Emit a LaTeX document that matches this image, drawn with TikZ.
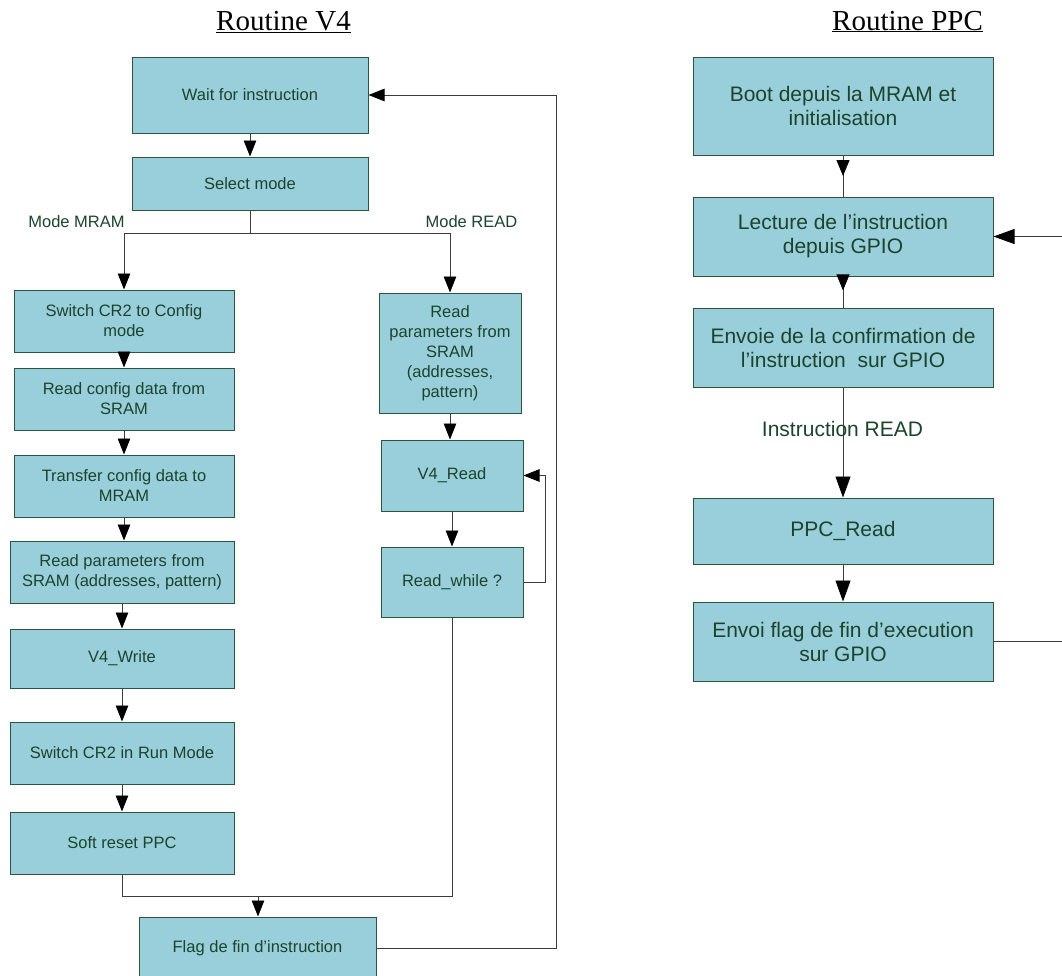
\documentclass[tikz,border=0pt]{standalone}
\usepackage{fontspec}
\setmainfont{Liberation Serif}
\setsansfont{Liberation Sans}
\usetikzlibrary{arrows.meta,positioning,decorations.markings}
\definecolor{boxfill}{RGB}{153,207,219}
\definecolor{boxline}{RGB}{45,85,62}
\definecolor{txtgreen}{RGB}{28,68,44}
\definecolor{wire}{RGB}{60,60,60}

\begin{document}
\begin{tikzpicture}[x=1pt, y=-1pt, >={Triangle[length=16pt,width=12.5pt,color=black]},
    title/.style={anchor=base, font=\rmfamily\fontsize{29}{34}\selectfont},
    v4box/.style={draw=boxline, fill=boxfill, line width=1pt, text=txtgreen,
      font=\sffamily\fontsize{16.5}{20}\selectfont, align=center, inner sep=0pt},
    ppcbox/.style={v4box, minimum width=300, font=\sffamily\fontsize{21}{24}\selectfont},
    lbl/.style={text=txtgreen, font=\sffamily\fontsize{16.5}{20}\selectfont, inner sep=0pt},
    lblbig/.style={lbl, font=\sffamily\fontsize{21}{24}\selectfont},
    link/.style={draw=wire, line width=0.9pt},
    bigtip/.style={-{Triangle[length=21pt,width=15pt,color=black]}},
    midtip/.style={postaction={decorate, decoration={markings,
      mark=at position #1 with {\arrow{Triangle[length=16pt,width=13pt,color=black]}}}}}]
  \useasboundingbox (0,0) rectangle (1062,975);
  \clip (0,0) rectangle (1062,975);

  % --- Routine V4 ---
  \node[title] (tv4) at (283.5,30) {\underline{Routine V4}};
  \node[v4box, minimum width=236, minimum height=76] (wait) at (250,95) {Wait for instruction};
  \node[v4box, minimum width=236, minimum height=53] (sel) at (250,183.5) {Select mode};
  \node[v4box, minimum width=220, minimum height=62] (cfg) at (124,321) {Switch CR2 to Config\\mode};
  \node[v4box, minimum width=220, minimum height=62] (rdcfg) at (124,399) {Read config data from\\SRAM};
  \node[v4box, minimum width=220, minimum height=62] (xfer) at (124,486) {Transfer config data to\\MRAM};
  \node[v4box, minimum width=224, minimum height=62] (rdpar) at (122,572) {Read parameters from\\SRAM (addresses, pattern)};
  \node[v4box, minimum width=224, minimum height=59] (wr) at (122,658.5) {V4\_Write};
  \node[v4box, minimum width=224, minimum height=62] (run) at (122,753) {Switch CR2 in Run Mode};
  \node[v4box, minimum width=224, minimum height=62] (rst) at (122,843) {Soft reset PPC};
  \node[v4box, minimum width=237, minimum height=62] (flag) at (257.5,948) {Flag de fin d’instruction};
  \node[v4box, minimum width=142, minimum height=120] (rdparR) at (450,353)
    {Read\\parameters from\\SRAM\\(addresses,\\pattern)};
  \node[v4box, minimum width=142, minimum height=71] (rd) at (452,475.5) {V4\_Read};
  \node[v4box, minimum width=142, minimum height=70] (rdw) at (452,582) {Read\_while ?};
  \node[lbl] (lmram) at (76.5,222) {Mode MRAM};
  \node[lbl] (lread) at (471.5,222) {Mode READ};

  % --- V4 connectors ---
  \coordinate (split) at (250,233);
  \coordinate (merge) at (258,896);
  \draw[->, link] (wait) -- (sel);
  \draw[link] (sel) -- (split);
  \draw[->, link] (split) -| (cfg);
  \draw[->, link] (split) -| (rdparR);
  \draw[->, link] (cfg) -- (rdcfg);
  \draw[->, link] (rdcfg) -- (xfer);
  \draw[->, link] (xfer.south) -- (xfer.south |- rdpar.north);
  \draw[->, link] (rdpar) -- (wr);
  \draw[->, link] (wr) -- (run);
  \draw[->, link] (run) -- (rst);
  \draw[->, link] (rdparR.south) -- (rdparR.south |- rd.north);
  \draw[->, link] (rd) -- (rdw);
  \draw[->, link] (rdw.east) -- ++(22,0) |- (rd.east);
  \draw[link] (rst) |- (merge);
  \draw[link] (rdw) |- (merge);
  \draw[->, link] (merge) -- (merge |- flag.north);
  \draw[->, link] (flag.east) -- ++(180,0) |- (wait.east);

  % --- Routine PPC ---
  \node[title] (tppc) at (907.5,30) {\underline{Routine PPC}};
  \node[ppcbox, minimum height=98] (boot) at (843,106) {Boot depuis la MRAM et\\initialisation};
  \node[ppcbox, minimum height=79] (lect) at (843,236.5) {Lecture de l’instruction\\depuis GPIO};
  \node[ppcbox, minimum height=79] (conf) at (843,347.5) {Envoie de la confirmation de\\l’instruction\ \ sur GPIO};
  \node[ppcbox, minimum height=66] (ppcrd) at (843,531) {PPC\_Read};
  \node[ppcbox, minimum height=79] (fin) at (843,641.5) {Envoi flag de fin d’execution\\sur GPIO};
  \coordinate (inR) at (1062,236.5);
  \coordinate (outR) at (1062,641.5);
  \draw[link, midtip=0.5] (boot) -- (lect);
  \draw[link, midtip=0.45] (lect) -- (conf);
  \draw[link, bigtip] (conf) -- (ppcrd);
  \draw[link, bigtip] (ppcrd) -- (fin);
  \draw[link, bigtip] (inR) -- (lect.east);
  \draw[link] (fin.east) -- (outR);
  \node[lblbig] (linstr) at (842.5,429) {Instruction READ};
\end{tikzpicture}
\end{document}
